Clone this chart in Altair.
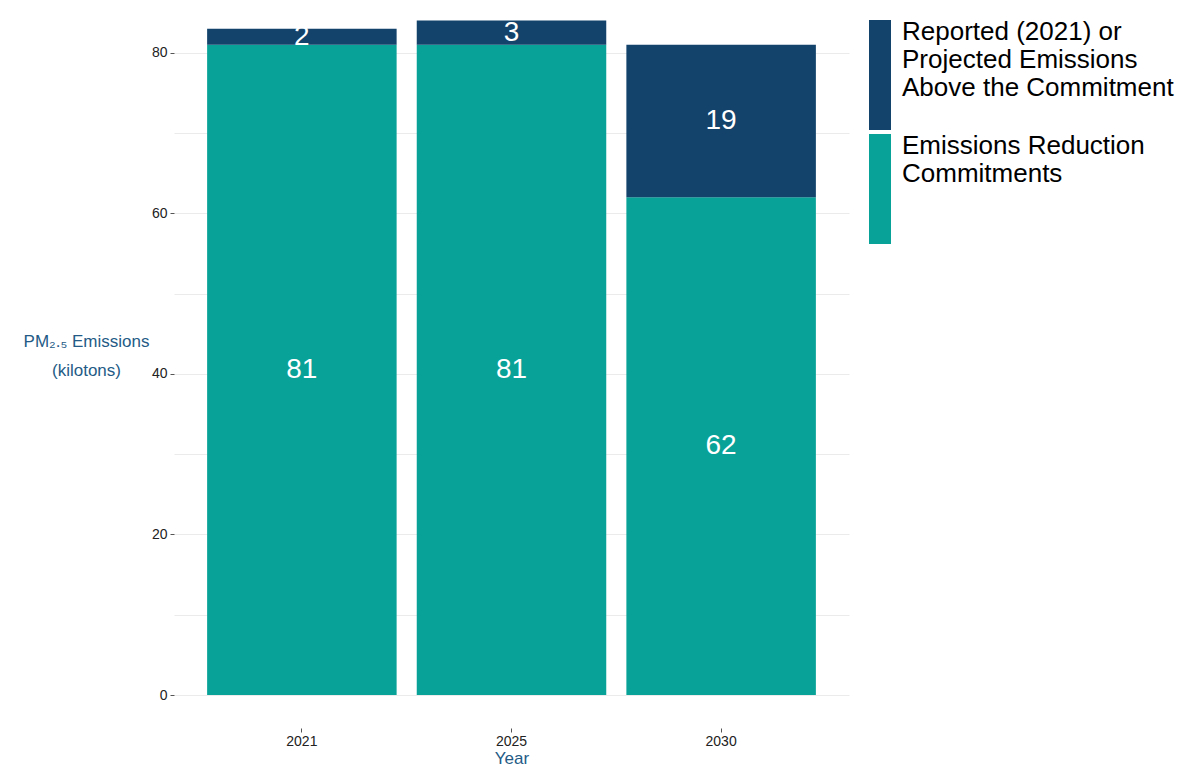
import altair as alt
import pandas as pd

years = ["2021", "2025", "2030"]
commitments = [81, 81, 62]
above = [2, 3, 19]

cat_above = "Reported (2021) or Projected Emissions Above the Commitment"
cat_commit = "Emissions Reduction Commitments"
categories = [cat_above, cat_commit]
colors = ["#13426B", "#09A298"]

rows = []
for yr, c, a in zip(years, commitments, above):
    rows.append({"Year": yr, "Category": cat_commit, "Value": c, "rank": 0, "mid": c / 2})
    rows.append({"Year": yr, "Category": cat_above, "Value": a, "rank": 1, "mid": c + a / 2})
df = pd.DataFrame(rows)

FONT = "Liberation Sans"
BLUE = "#245B86"

label_expr = (
    "datum.label == '" + cat_commit + "' ? ['Emissions Reduction', 'Commitments']"
    " : ['Reported (2021) or', 'Projected Emissions', 'Above the Commitment']"
)

x_enc = alt.X(
    "Year:N",
    sort=years,
    scale=alt.Scale(paddingInner=0.096, paddingOuter=0.158),
    axis=alt.Axis(
        title="Year", labelAngle=0, offset=33, tickSize=4, domain=False, grid=False,
        labelFont=FONT, labelFontSize=14, labelColor="#222222", labelPadding=2,
        tickColor="#555555", titleFont=FONT, titleFontSize=17, titleFontWeight="normal",
        titleColor=BLUE, titlePadding=2,
    ),
)

y_axis = alt.Axis(
    title=["PM₂.₅ Emissions", "(kilotons)"],
    values=[0, 10, 20, 30, 40, 50, 60, 70, 80],
    labelExpr="datum.value % 20 == 0 ? datum.label : ''",
    tickOpacity={"condition": {"test": "datum.value % 20 != 0", "value": 0}, "value": 1},
    tickSize=4, tickColor="#555555", domain=False,
    grid=True, gridColor="#EBEBEB", gridWidth=1,
    labelFont=FONT, labelFontSize=14, labelColor="#222222", labelPadding=3,
    titleAngle=0, titleAlign="center", titleBaseline="middle",
    titleX=-88, titleY=322, titleFont=FONT, titleFontSize=17,
    titleFontWeight="normal", titleColor=BLUE, titleLineHeight=29,
)

bars = alt.Chart(df).mark_bar().encode(
    x=x_enc,
    y=alt.Y("Value:Q", stack="zero", scale=alt.Scale(domain=[0, 84.2], nice=False), axis=y_axis),
    color=alt.Color(
        "Category:N",
        scale=alt.Scale(domain=categories, range=colors),
        legend=alt.Legend(
            title=None, orient="right", offset=18, padding=0,
            symbolType="M-1,-1.1H1V8.9H-1Z", symbolSize=484,
            symbolStrokeWidth=0, symbolOpacity=1,
            labelFont=FONT, labelFontSize=26, labelColor="#000000",
            labelLimit=400, labelOffset=9, rowPadding=3,
            labelExpr=label_expr,
        ),
    ),
    order=alt.Order("rank:Q", sort="ascending"),
)

text = alt.Chart(df).mark_text(color="white", fontSize=28, font=FONT).encode(
    x=alt.X("Year:N", sort=years),
    y=alt.Y("mid:Q"),
    text=alt.Text("Value:Q"),
)

chart = (
    alt.layer(bars, text)
    .properties(width=675, height=676, padding={"left": 15, "top": 10, "right": 2, "bottom": 0})
    .configure_view(stroke=None)
)

chart.save("out.html", embed_options={"renderer": "svg", "actions": False})
